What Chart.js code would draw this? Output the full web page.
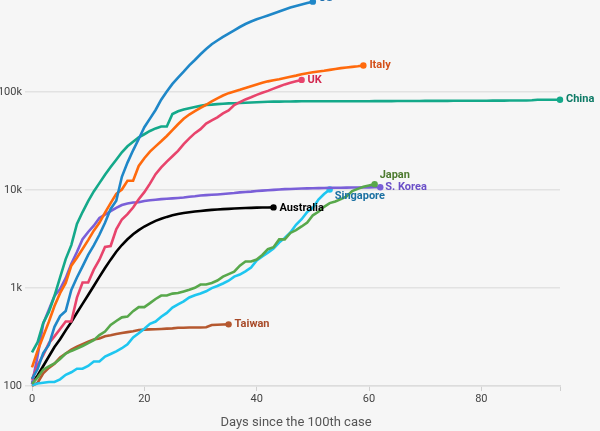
<!DOCTYPE html>
<html>
<head>
<meta charset="utf-8">
<script src="https://cdn.jsdelivr.net/npm/chart.js@4.4.1/dist/chart.umd.min.js"></script>
<style>
  html, body { margin: 0; padding: 0; background: #f6f6f6; }
  #wrap { width: 600px; height: 431px; }
</style>
</head>
<body>
<div id="wrap"><canvas id="cases" width="600" height="431"></canvas></div>
<script>
// Cumulative confirmed cases, by days since the 100th case
const countries = ["US", "Italy", "UK", "China", "Japan", "S. Korea", "Singapore", "Australia", "Taiwan"];

const usCases = [118, 149, 217, 262, 402, 518, 583, 959, 1281, 1663, 2179, 2727, 3499, 4632, 6421, 7786,
  13680, 19101, 25493, 33276, 43847, 53740, 65778, 83836, 101657, 121465, 140909, 161831, 188172, 213242,
  243622, 275367, 308650, 336802, 366317, 397121, 428654, 462780, 496535, 526396, 555313, 580619, 607670,
  636350, 667801, 699706, 732197, 759086, 784326, 811865, 840351];

const italyCases = [155, 229, 322, 453, 655, 888, 1128, 1694, 2036, 2502, 3089, 3858, 4636, 5883, 7375, 9172,
  10149, 12462, 12462, 17660, 21157, 24747, 27980, 31506, 35713, 41035, 47021, 53578, 59138, 63927, 69176,
  74386, 80589, 86498, 92472, 97689, 101739, 105792, 110574, 115242, 119827, 124632, 128948, 132547, 135586,
  139422, 143626, 147577, 152271, 156363, 159516, 162488, 165155, 168941, 172434, 175925, 178972, 181228,
  183957, 187327];

const ukCases = [116, 164, 207, 273, 321, 382, 456, 456, 798, 1140, 1140, 1543, 1950, 2626, 2689, 3983, 5018,
  5683, 6650, 8077, 9529, 11658, 14543, 17089, 19522, 22141, 25150, 29474, 33718, 38168, 41903, 47806, 51608,
  55242, 60733, 65077, 73758, 78991, 84279, 88621, 93873, 98476, 103093, 108692, 114217, 120067, 124743,
  129044, 133495];

const chinaCases = [220, 280, 440, 571, 830, 1287, 1975, 2744, 4515, 5974, 7711, 9692, 11791, 14380, 17205,
  20438, 24324, 28018, 31161, 34546, 37198, 40171, 42638, 44653, 44700, 59804, 63851, 66492, 68500, 70548,
  72436, 74185, 74576, 75465, 76288, 76936, 77150, 77658, 78064, 78497, 78824, 79251, 79824, 80026, 80151,
  80270, 80409, 80552, 80651, 80695, 80735, 80754, 80778, 80793, 80813, 80824, 80844, 80860, 80881, 80894,
  80928, 80967, 81008, 81054, 81093, 81171, 81218, 81285, 81340, 81394, 81439, 81470, 81518, 81554, 81589,
  81620, 81639, 81669, 81708, 81740, 81802, 81865, 81907, 81953, 82052, 82160, 82249, 82295, 82341, 82692,
  83745, 83760, 83787, 83805, 83817];

const japanCases = [105, 122, 147, 159, 170, 189, 214, 228, 241, 256, 274, 293, 331, 360, 420, 461, 502, 511,
  581, 639, 639, 701, 773, 839, 839, 878, 889, 924, 963, 1007, 1086, 1086, 1128, 1193, 1307, 1387, 1468, 1693,
  1866, 1866, 1953, 2178, 2495, 2617, 3139, 3139, 3654, 3906, 4257, 4667, 5530, 6005, 6748, 7370, 7645, 8100,
  8626, 9787, 10296, 10797, 11135, 11512];

const koreaCases = [104, 204, 433, 602, 833, 977, 1261, 1766, 2337, 3150, 3736, 4335, 5186, 5621, 6088, 6593,
  7041, 7314, 7478, 7513, 7755, 7869, 7979, 8086, 8162, 8236, 8320, 8413, 8565, 8652, 8799, 8897, 8961, 9037,
  9137, 9241, 9332, 9478, 9583, 9661, 9786, 9887, 9976, 10062, 10156, 10237, 10284, 10331, 10384, 10423,
  10450, 10480, 10512, 10537, 10564, 10591, 10613, 10635, 10653, 10661, 10674, 10683, 10694];

const singaporeCases = [102, 106, 108, 110, 110, 117, 130, 138, 150, 150, 160, 178, 178, 200, 212, 226, 243,
  266, 313, 345, 385, 432, 455, 509, 558, 631, 683, 732, 802, 844, 879, 926, 1000, 1049, 1114, 1189, 1309,
  1375, 1481, 1623, 1910, 2108, 2299, 2532, 2918, 3252, 3699, 4427, 5050, 5992, 6588, 8014, 9125, 10141];

const australiaCases = [107, 128, 160, 200, 250, 300, 370, 450, 560, 690, 850, 1050, 1300, 1600, 1950, 2350,
  2750, 3150, 3550, 3900, 4250, 4550, 4850, 5100, 5330, 5530, 5700, 5830, 5940, 6040, 6130, 6210, 6280, 6340,
  6390, 6440, 6480, 6520, 6560, 6590, 6620, 6640, 6655, 6665];

const taiwanCases = [100, 108, 135, 153, 169, 195, 215, 235, 252, 267, 283, 298, 306, 322, 329, 339, 348, 355,
  363, 373, 376, 379, 380, 382, 385, 388, 393, 393, 395, 395, 395, 398, 420, 422, 425, 426];

const xTicks = [0, 20, 40, 60, 80, 94];
const yTicks = [100, 1000, 10000, 100000];
const yTickLabels = ["100", "1k", "10k", "100k"];

// styling per country: line colour, label colour, label offset from the end dot
const styles = {
  "US":        { line: "#1f87c8", text: "#1d6fae", dx: 6, dy: -3 },
  "Italy":     { line: "#ff6a0d", text: "#d4501a", dx: 6, dy: 0 },
  "UK":        { line: "#e8446c", text: "#d2284f", dx: 6, dy: 0 },
  "China":     { line: "#14a98a", text: "#0d7a66", dx: 6, dy: 0 },
  "Japan":     { line: "#58a84b", text: "#4d7a2f", dx: 5, dy: -9 },
  "S. Korea":  { line: "#7a5fd8", text: "#6a4fc8", dx: 5, dy: 0 },
  "Singapore": { line: "#1ec6f0", text: "#1a70a2", dx: 5, dy: 7 },
  "Australia": { line: "#000000", text: "#000000", dx: 6, dy: 1 },
  "Taiwan":    { line: "#b5582f", text: "#a84a28", dx: 6, dy: 0 }
};

const seriesValues = [usCases, italyCases, ukCases, chinaCases, japanCases, koreaCases,
  singaporeCases, australiaCases, taiwanCases];

function toPoints(arr) {
  return arr.map((v, i) => ({ x: i, y: v }));
}

const datasets = countries.map((name, k) => {
  const s = styles[name];
  const last = seriesValues[k].length - 1;
  return {
    label: name,
    data: toPoints(seriesValues[k]),
    borderColor: s.line,
    backgroundColor: s.line,
    borderWidth: 2.6,
    tension: 0,
    clip: false,
    pointRadius: (c) => (c.dataIndex === last ? 3.2 : 0),
    pointHoverRadius: 0,
    pointBorderWidth: 0
  };
});

// paint the light grey background
const bgPlugin = {
  id: "bg",
  beforeDraw(chart) {
    const ctx = chart.ctx;
    ctx.save();
    ctx.fillStyle = "#f6f6f6";
    ctx.fillRect(0, 0, chart.width, chart.height);
    ctx.restore();
  }
};

// country names next to the last point of each line
const endLabels = {
  id: "endLabels",
  afterDatasetsDraw(chart) {
    const ctx = chart.ctx;
    ctx.save();
    ctx.font = "bold 11px Roboto, 'Noto Sans', sans-serif";
    ctx.textBaseline = "middle";
    ctx.textAlign = "left";
    chart.data.datasets.forEach((ds, i) => {
      const meta = chart.getDatasetMeta(i);
      const pt = meta.data[meta.data.length - 1];
      const s = styles[ds.label];
      ctx.fillStyle = s.text;
      ctx.fillText(ds.label, pt.x + s.dx, pt.y + s.dy);
    });
    ctx.restore();
  }
};

const chart = new Chart(document.getElementById("cases").getContext("2d"), {
  type: "line",
  data: { datasets: datasets },
  options: {
    responsive: false,
    animation: false,
    events: [],
    layout: { padding: { top: 0, right: 40, left: 0, bottom: 0 } },
    plugins: { legend: { display: false }, tooltip: { enabled: false } },
    scales: {
      x: {
        type: "linear",
        min: 0,
        max: 94,
        afterBuildTicks: (scale) => { scale.ticks = xTicks.map((v) => ({ value: v })); },
        afterFit: (scale) => { scale.height = 45; scale.paddingLeft = 0; scale.paddingRight = 0; },
        ticks: {
          autoSkip: false,
          maxRotation: 0,
          padding: 2,
          color: "#444",
          font: { family: "Roboto, 'Noto Sans', sans-serif", size: 11 },
          callback: (v) => (v % 20 === 0 ? v : "")
        },
        grid: { drawOnChartArea: false, drawTicks: true, tickLength: 5, color: "#cfcfcf" },
        border: { display: true, color: "#dcdcdc", width: 1.5 },
        title: {
          display: true,
          text: "Days since the 100th case",
          color: "#555",
          font: { family: "Roboto, 'Noto Sans', sans-serif", size: 13 },
          padding: { top: 0, bottom: 0 }
        }
      },
      y: {
        type: "logarithmic",
        min: 100,
        max: 810000,
        afterBuildTicks: (scale) => { scale.ticks = yTicks.map((v) => ({ value: v })); },
        afterFit: (scale) => { scale.width = 32; scale.paddingTop = 0; scale.paddingBottom = 0; },
        ticks: {
          padding: 3,
          color: "#444",
          font: { family: "Roboto, 'Noto Sans', sans-serif", size: 11 },
          callback: (v) => yTickLabels[yTicks.indexOf(v)]
        },
        grid: { drawOnChartArea: true, drawTicks: true, tickLength: 7, color: "#e2e2e2", lineWidth: 1.5 },
        border: { display: false }
      }
    }
  },
  plugins: [bgPlugin, endLabels]
});
</script>
</body>
</html>
